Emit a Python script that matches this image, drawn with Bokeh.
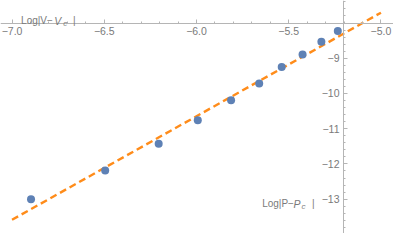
import numpy as np
from bokeh.plotting import figure
from bokeh.models import Range1d, FixedTicker, Label
from bokeh.embed import file_html
from bokeh.resources import INLINE

# data
log_p = [-6.897, -6.495, -6.205, -5.993, -5.8125, -5.66, -5.538, -5.425, -5.323, -5.234]
log_v = [-13.0, -12.19, -11.43, -10.76, -10.195, -9.717, -9.247, -8.894, -8.53, -8.23]
fit_x = [-7.0, -5.0]
fit_y = [-13.585, -7.707]

x_ticks = [-7.0, -6.5, -6.0, -5.5, -5.0]
x_tick_labels = ["−7.0", "−6.5", "−6.0", "−5.5", "−5.0"]
y_ticks = [-13, -12, -11, -10, -9]
y_tick_labels = ["−13", "−12", "−11", "−10", "−9"]

W, H = 393, 233
p = figure(width=W, height=H, output_backend="svg", toolbar_location=None,
           x_range=Range1d(-7.0625, -4.932), y_range=Range1d(-13.975, -7.361),
           min_border=0)
p.outline_line_color = None
p.xgrid.visible = False
p.ygrid.visible = False

GRAY = "#7a7a7a"
AX = "#b5b5b5"
FONT = "Liberation Sans"

p.xaxis.fixed_location = -8
p.yaxis.fixed_location = -5.203
p.xaxis.ticker = FixedTicker(ticks=x_ticks, minor_ticks=list(np.round(np.arange(-7.0, -4.9, 0.1), 2)))
p.yaxis.ticker = FixedTicker(ticks=y_ticks, minor_ticks=list(np.round(np.arange(-14.0, -7.3, 0.2), 2)))
p.xaxis.major_label_overrides = {t: l for t, l in zip(x_ticks, x_tick_labels)}
p.yaxis.major_label_overrides = {t: l for t, l in zip(y_ticks, y_tick_labels)}
for ax in (p.xaxis[0], p.yaxis[0]):
    ax.axis_line_color = AX
    ax.major_tick_line_color = AX
    ax.minor_tick_line_color = AX
    ax.major_tick_in = 4
    ax.major_tick_out = 0
    ax.minor_tick_in = 2
    ax.minor_tick_out = 0
    ax.major_label_text_color = GRAY
    ax.major_label_text_font = FONT
    ax.major_label_text_font_size = "10.5px"
p.xaxis.major_label_standoff = 4
p.yaxis.major_label_standoff = 4

p.line(fit_x, fit_y, line_color="#FF8C1A", line_width=2.4, line_dash="7 4")
p.scatter(log_p, log_v, size=8, fill_color="#5E81B5", line_color=None)

def add_label(x, y, parts):
    for txt, dx, dy, italic, size in parts:
        p.add_layout(Label(x=x, y=y, x_offset=dx, y_offset=dy, text=txt,
                           text_font=FONT, text_font_size=size, text_color=GRAY,
                           text_font_style="italic" if italic else "normal",
                           text_baseline="alphabetic"))

s = 0.96
add_label(-6.951, -7.935, [("Log|V−", 0, 0, False, "10px"),
                           ("V", 34.6 * s, 0, True, "10.5px"),
                           ("c", 44 * s, -3, True, "8px"),
                           ("|", 54 * s, 0, False, "10px")])
add_label(-5.644, -13.133, [("Log|P−", 0, 0, False, "10px"),
                            ("P", 32.7 * s, 0, True, "10.5px"),
                            ("c", 41 * s, -3, True, "8px"),
                            ("|", 52 * s, 0, False, "10px")])

open("out.html", "w").write(file_html(p, INLINE))
